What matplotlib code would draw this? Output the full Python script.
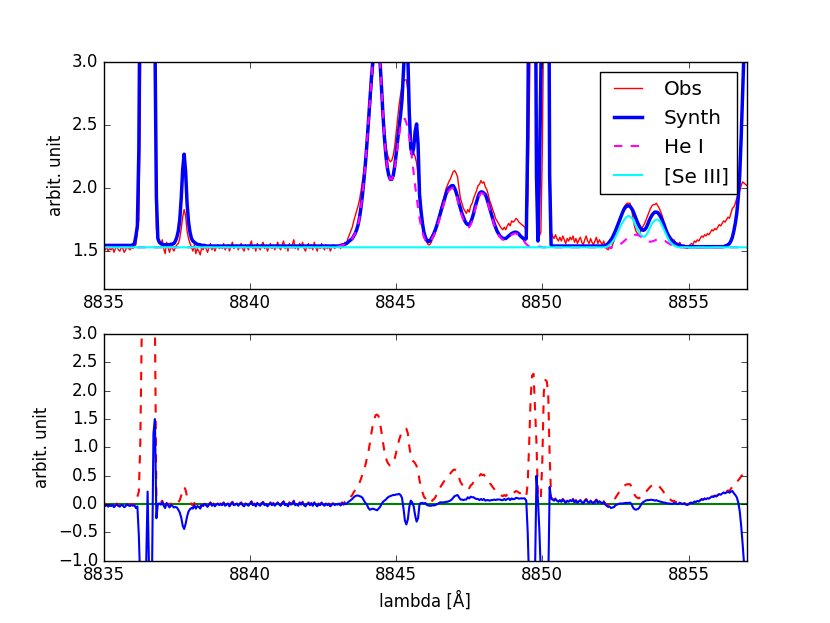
import numpy as np
import matplotlib
matplotlib.use('Agg')
import matplotlib.pyplot as plt

plt.style.use('classic')

# wavelength grid, 0.05 A steps from 8835 to 8857
wave = np.linspace(8835.0, 8857.0, 441)

# continuum level
cont = 1.53

# observed spectrum, one row per Angstrom (20 pts each)
obs = [1.56, 1.51, 1.53, 1.50, 1.52, 1.51, 1.53, 1.49, 1.52, 1.54, 1.51, 1.50, 1.53, 1.52, 1.49, 1.51, 1.54, 1.52, 1.51, 1.53,
       1.52, 1.54, 1.55, 1.66, 1.75, 2.60, 4.60, 5.50, 6.00, 6.50, 7.80, 6.20, 5.80, 5.00, 6.00, 4.70, 1.68, 1.60, 1.58, 1.55,
       1.59, 1.52, 1.48, 1.57, 1.53, 1.49, 1.54, 1.52, 1.50, 1.53, 1.55, 1.56, 1.60, 1.68, 1.77, 1.83, 1.78, 1.66, 1.60, 1.56,
       1.53, 1.50, 1.55, 1.48, 1.52, 1.50, 1.47, 1.53, 1.51, 1.55, 1.52, 1.49, 1.53, 1.56, 1.51, 1.54, 1.50, 1.53, 1.55, 1.52,
       1.54, 1.52, 1.56, 1.51, 1.53, 1.55, 1.50, 1.54, 1.57, 1.52, 1.53, 1.55, 1.51, 1.54, 1.56, 1.52, 1.50, 1.55, 1.53, 1.51,
       1.55, 1.58, 1.52, 1.54, 1.50, 1.56, 1.53, 1.51, 1.55, 1.57, 1.52, 1.54, 1.50, 1.53, 1.56, 1.52, 1.55, 1.51, 1.54, 1.57,
       1.53, 1.51, 1.55, 1.58, 1.52, 1.54, 1.50, 1.56, 1.53, 1.55, 1.59, 1.52, 1.54, 1.51, 1.56, 1.53, 1.57, 1.52, 1.50, 1.54,
       1.56, 1.52, 1.55, 1.51, 1.57, 1.53, 1.50, 1.54, 1.52, 1.56, 1.53, 1.51, 1.55, 1.52, 1.54, 1.50, 1.53, 1.55, 1.52, 1.54,
       1.53, 1.55, 1.52, 1.56, 1.54, 1.57, 1.56, 1.60, 1.63, 1.66, 1.69, 1.74, 1.78, 1.82, 1.86, 1.91, 1.98, 2.06, 2.13, 2.22,
       2.34, 2.45, 2.60, 2.77, 2.92, 3.03, 3.10, 3.11, 3.08, 2.95, 2.80, 2.62, 2.46, 2.34, 2.27, 2.23, 2.21, 2.22, 2.26, 2.33,
       2.44, 2.55, 2.66, 2.74, 2.81, 2.85, 2.86, 2.86, 2.78, 2.55, 2.38, 2.30, 2.28, 2.25, 2.20, 2.10, 1.95, 1.84, 1.74, 1.66,
       1.63, 1.57, 1.55, 1.55, 1.57, 1.60, 1.62, 1.66, 1.71, 1.76, 1.82, 1.86, 1.90, 1.94, 1.99, 2.02, 2.05, 2.07, 2.10, 2.13,
       2.14, 2.12, 2.09, 2.00, 1.92, 1.88, 1.84, 1.82, 1.80, 1.83, 1.81, 1.86, 1.88, 1.92, 1.95, 1.98, 2.02, 2.03, 2.06, 2.04,
       2.05, 2.01, 1.99, 1.95, 1.90, 1.87, 1.83, 1.80, 1.76, 1.74, 1.72, 1.70, 1.68, 1.67, 1.69, 1.67, 1.70, 1.72, 1.70, 1.74,
       1.73, 1.74, 1.76, 1.75, 1.73, 1.72, 1.71, 1.70, 1.69, 1.66, 1.90, 2.60, 3.40, 3.80, 3.83, 3.20, 2.60, 1.65, 1.62, 1.65,
       2.30, 3.50, 3.72, 3.70, 3.50, 2.40, 1.65, 1.62, 1.60, 1.63, 1.60, 1.58, 1.61, 1.58, 1.62, 1.59, 1.56, 1.60, 1.58, 1.61,
       1.59, 1.62, 1.57, 1.60, 1.56, 1.59, 1.61, 1.57, 1.55, 1.59, 1.62, 1.58, 1.56, 1.60, 1.57, 1.55, 1.58, 1.61, 1.56, 1.59,
       1.57, 1.55, 1.58, 1.54, 1.52, 1.51, 1.53, 1.52, 1.55, 1.58, 1.64, 1.68, 1.72, 1.76, 1.79, 1.82, 1.85, 1.87, 1.88, 1.88,
       1.88, 1.84, 1.76, 1.70, 1.66, 1.64, 1.63, 1.65, 1.68, 1.70, 1.72, 1.75, 1.78, 1.81, 1.84, 1.86, 1.87, 1.87, 1.88, 1.86,
       1.84, 1.81, 1.78, 1.74, 1.71, 1.67, 1.64, 1.62, 1.60, 1.58, 1.59, 1.57, 1.56, 1.55, 1.57, 1.55, 1.54, 1.55, 1.53, 1.52,
       1.53, 1.55, 1.56, 1.55, 1.58, 1.57, 1.59, 1.58, 1.60, 1.62, 1.61, 1.63, 1.62, 1.64, 1.63, 1.65, 1.67, 1.66, 1.68, 1.67,
       1.69, 1.71, 1.70, 1.72, 1.74, 1.73, 1.75, 1.77, 1.76, 1.80, 1.84, 1.85, 1.88, 1.92, 1.95, 1.98, 2.02, 2.05, 2.04, 2.03,
       2.02]

# synthetic spectrum (all lines)
synth = ([1.545] * 20 +
         [1.55, 1.56, 1.62, 1.70, 2.30, 4.00, 6.00, 7.00, 7.50, 7.60, 7.58, 7.40, 7.00, 6.30, 4.75, 3.20, 1.93, 1.60, 1.57, 1.56] +
         [1.555, 1.55, 1.55, 1.55, 1.55, 1.55, 1.555, 1.555, 1.56, 1.58, 1.61, 1.66, 1.75, 1.92, 2.15, 2.27, 2.13, 1.88, 1.73, 1.65] +
         [1.60, 1.58, 1.57, 1.56, 1.555, 1.55, 1.55, 1.545, 1.545, 1.545] + [1.54] * 10 +
         [1.54] * 80 +
         [1.54, 1.54, 1.545, 1.545, 1.55, 1.555, 1.56, 1.57, 1.58, 1.59, 1.60, 1.62, 1.64, 1.67, 1.71, 1.77, 1.85, 1.95, 2.07, 2.20] +
         [2.35, 2.52, 2.70, 2.86, 3.00, 3.12, 3.20, 3.22, 3.16, 3.00, 2.80, 2.58, 2.40, 2.26, 2.16, 2.10, 2.07, 2.07, 2.10, 2.17] +
         [2.27, 2.38, 2.48, 2.58, 2.70, 2.92, 3.15, 3.22, 3.05, 2.60, 2.32, 2.27, 2.32, 2.45, 2.51, 2.35, 1.95, 1.82, 1.72, 1.65] +
         [1.61, 1.585, 1.575, 1.58, 1.60, 1.62, 1.645, 1.675, 1.71, 1.75, 1.79, 1.83, 1.87, 1.91, 1.95, 1.98, 2.00, 2.01, 2.02, 2.02] +
         [2.00, 1.97, 1.93, 1.88, 1.84, 1.80, 1.77, 1.74, 1.72, 1.71, 1.71, 1.73, 1.76, 1.80, 1.85, 1.89, 1.93, 1.96, 1.97, 1.97] +
         [1.96, 1.95, 1.92, 1.88, 1.84, 1.80, 1.76, 1.72, 1.69, 1.66, 1.64, 1.62, 1.61, 1.60, 1.60, 1.60, 1.61, 1.62, 1.63, 1.64] +
         [1.645, 1.65, 1.65, 1.645, 1.635, 1.62, 1.61, 1.60, 1.59, 1.60, 2.40, 4.00, 5.00, 5.50, 5.00, 4.40, 2.10, 1.58, 2.10, 2.90] +
         [4.30, 5.30, 5.70, 5.50, 5.00, 2.10, 1.55] + [1.54] * 13 +
         [1.54] * 20 +
         [1.54, 1.54, 1.54, 1.545, 1.55, 1.56, 1.575, 1.59, 1.61, 1.635, 1.66, 1.69, 1.72, 1.75, 1.78, 1.81, 1.835, 1.85, 1.86, 1.86] +
         [1.855, 1.84, 1.82, 1.79, 1.76, 1.73, 1.705, 1.685, 1.67, 1.665, 1.67, 1.685, 1.71, 1.74, 1.765, 1.785, 1.80, 1.81, 1.81, 1.805] +
         [1.79, 1.77, 1.745, 1.715, 1.685, 1.655, 1.63, 1.61, 1.595, 1.58, 1.57, 1.56, 1.555, 1.55, 1.545, 1.54, 1.54, 1.535, 1.535, 1.535] +
         [1.535] * 20 +
         [1.535] * 5 + [1.54, 1.545, 1.55, 1.56, 1.58, 1.61, 1.66, 1.72, 1.80, 1.92, 2.10, 2.40, 2.75, 3.10, 3.60] +
         [4.20])

# He I component
he1 = ([1.53] * 160 +
       [1.535, 1.54, 1.54, 1.545, 1.55, 1.555, 1.56, 1.57, 1.58, 1.59, 1.60, 1.62, 1.64, 1.67, 1.71, 1.77, 1.85, 1.95, 2.07, 2.20] +
       [2.35, 2.52, 2.70, 2.86, 3.00, 3.12, 3.20, 3.22, 3.16, 3.00, 2.80, 2.58, 2.40, 2.26, 2.16, 2.10, 2.07, 2.07, 2.10, 2.16] +
       [2.24, 2.33, 2.42, 2.49, 2.53, 2.55, 2.55, 2.52, 2.47, 2.40, 2.32, 2.22, 2.12, 2.02, 1.93, 1.84, 1.76, 1.70, 1.65, 1.61] +
       [1.585, 1.57, 1.565, 1.57, 1.585, 1.61, 1.63, 1.66, 1.69, 1.73, 1.77, 1.81, 1.85, 1.89, 1.93, 1.96, 1.98, 1.99, 2.00, 2.00] +
       [1.98, 1.95, 1.91, 1.86, 1.82, 1.78, 1.75, 1.72, 1.70, 1.69, 1.69, 1.71, 1.74, 1.78, 1.83, 1.87, 1.91, 1.94, 1.96, 1.96] +
       [1.95, 1.94, 1.91, 1.87, 1.83, 1.79, 1.75, 1.71, 1.68, 1.65, 1.63, 1.61, 1.60, 1.59, 1.59, 1.59, 1.60, 1.61, 1.62, 1.63] +
       [1.635, 1.64, 1.64, 1.635, 1.625, 1.61, 1.60, 1.585, 1.57, 1.555, 1.545, 1.54, 1.54, 1.535, 1.535, 1.535, 1.535, 1.535, 1.535, 1.535] +
       [1.53] * 48 +
       [1.53, 1.533, 1.536, 1.54, 1.545, 1.552, 1.56, 1.57, 1.58, 1.59, 1.60, 1.608] +
       [1.615, 1.62, 1.625, 1.628, 1.63, 1.628, 1.625, 1.618, 1.61, 1.60, 1.59, 1.583, 1.578, 1.575, 1.575, 1.577, 1.58, 1.585, 1.59, 1.593] +
       [1.595, 1.594, 1.59, 1.585, 1.58, 1.572, 1.565, 1.557, 1.55, 1.544, 1.54, 1.536, 1.533, 1.53, 1.53, 1.53, 1.53, 1.53, 1.53, 1.53] +
       [1.53] * 41)

# [Se III] component
se3 = ([1.53] * 344 +
       [1.535, 1.54, 1.55, 1.56, 1.575, 1.59, 1.61, 1.635, 1.66, 1.685, 1.71, 1.73, 1.75, 1.765, 1.775, 1.78] +
       [1.775, 1.765, 1.75, 1.725, 1.70, 1.675, 1.655, 1.635, 1.625, 1.615, 1.615, 1.625, 1.645, 1.67, 1.695, 1.72, 1.735, 1.745, 1.75, 1.75] +
       [1.74, 1.725, 1.70, 1.675, 1.65, 1.625, 1.60, 1.58, 1.565, 1.555, 1.545, 1.54, 1.535, 1.53, 1.53, 1.53, 1.53, 1.53, 1.53, 1.53] +
       [1.53] * 41)

obs = np.array(obs)
synth = np.array(synth)
he1 = np.array(he1)
se3 = np.array(se3)

fig = plt.figure(figsize=(8.3, 6.23), dpi=100, facecolor='white')

ax1 = fig.add_subplot(211)
ax1.plot(wave, obs, color='r', lw=1, label='Obs')
ax1.plot(wave, synth, color='b', lw=2.5, label='Synth')
ax1.plot(wave, he1, color='#ff00ff', lw=1.5, ls='--', label='He I')
ax1.plot(wave, se3, color='#00ffff', lw=1.5, label='[Se III]')
ax1.set_xlim(8835, 8857)
ax1.set_ylim(1.2, 3.0)
ax1.set_yticks([1.5, 2.0, 2.5, 3.0])
ax1.set_xticks([8835, 8840, 8845, 8850, 8855])
ax1.ticklabel_format(useOffset=False, axis='x')
ax1.set_ylabel('arbit. unit')
ax1.legend(loc='upper right')

# residuals: obs - continuum (dashed) and obs - synth
ax2 = fig.add_subplot(212)
ax2.axhline(0.0, color='g', lw=1.5)
ax2.plot(wave, obs - cont, color='r', lw=1.5, ls='--')
ax2.plot(wave, obs - synth, color='b', lw=1.5)
ax2.set_xlim(8835, 8857)
ax2.set_ylim(-1.0, 3.0)
ax2.set_yticks(np.arange(-1.0, 3.01, 0.5))
ax2.set_xticks([8835, 8840, 8845, 8850, 8855])
ax2.ticklabel_format(useOffset=False, axis='x')
ax2.set_ylabel('arbit. unit')
ax2.set_xlabel('lambda [Å]')

fig.savefig('out.png', dpi=100, facecolor='white')
